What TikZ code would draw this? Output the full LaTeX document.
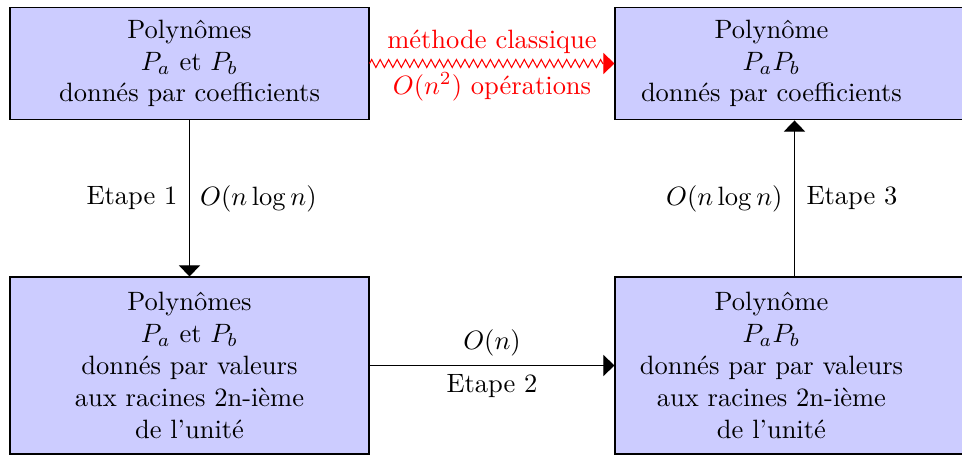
\documentclass[tikz,border=0pt]{standalone}
\usetikzlibrary{arrows.meta,decorations.pathmorphing}
\begin{document}
\begin{tikzpicture}[x=0.3774pt,y=0.3774pt,
  box/.style={draw, fill=blue!20, minimum width=135.5pt, inner sep=0pt, align=center},
  tall/.style={box, minimum height=66.8pt},
  short/.style={box, minimum height=42.6pt},
  boxtext/.style={align=center, inner sep=0pt},
  arr/.style={-{Triangle[length=4.2pt,width=8pt]}},
  zz/.style={red, decorate, decoration={zigzag, segment length=3.2pt, amplitude=1.5pt, post length=3pt},
             -{Triangle[length=4.2pt,width=8pt]}},
  lab/.style={red}]
\useasboundingbox (0,0) rectangle (962,-455);

% coefficient representations (top row)
\node[short] (tl) at (189.5,-63.5) {Polynômes\\ $P_a$ et $P_b$\\ donnés par coefficients};
\node[short] (tr) at (794.5,-63.5) {};
\node[boxtext] (trtext) at ([xshift=-8.7pt]tr.center) {Polynôme\\ $P_aP_b$\\ donnés par coefficients};

% value representations (bottom row)
\node[tall] (bl) at (189.5,-365.5) {Polynômes\\ $P_a$ et $P_b$\\ donnés par valeurs\\ aux racines 2n-ième\\ de l'unité};
\node[tall] (br) at (794.5,-365.5) {};
\node[boxtext] (brtext) at ([xshift=-8.7pt]br.center) {Polynôme\\ $P_aP_b$\\ donnés par par valeurs\\ aux racines 2n-ième\\ de l'unité};

% classical product
\draw[zz] (tl.east) -- (tr.west)
  node[midway, above=0pt, lab] {méthode classique}
  node[midway, below=0pt, lab] {$O(n^2)$ opérations};

% FFT route
\draw[arr] (tl.south) -- (bl.north)
  node[midway, left=1pt] {Etape 1}
  node[midway, right=0.5pt] {$O(n\log n)$};
\draw[arr] (bl.east) -- (br.west)
  node[midway, above=0pt] {$O(n)$}
  node[midway, below=0pt] {Etape 2};
\draw[arr] (br.north) -- (tr.south)
  node[midway, left=1pt] {$O(n\log n)$}
  node[midway, right=1pt] {Etape 3};
\end{tikzpicture}
\end{document}
